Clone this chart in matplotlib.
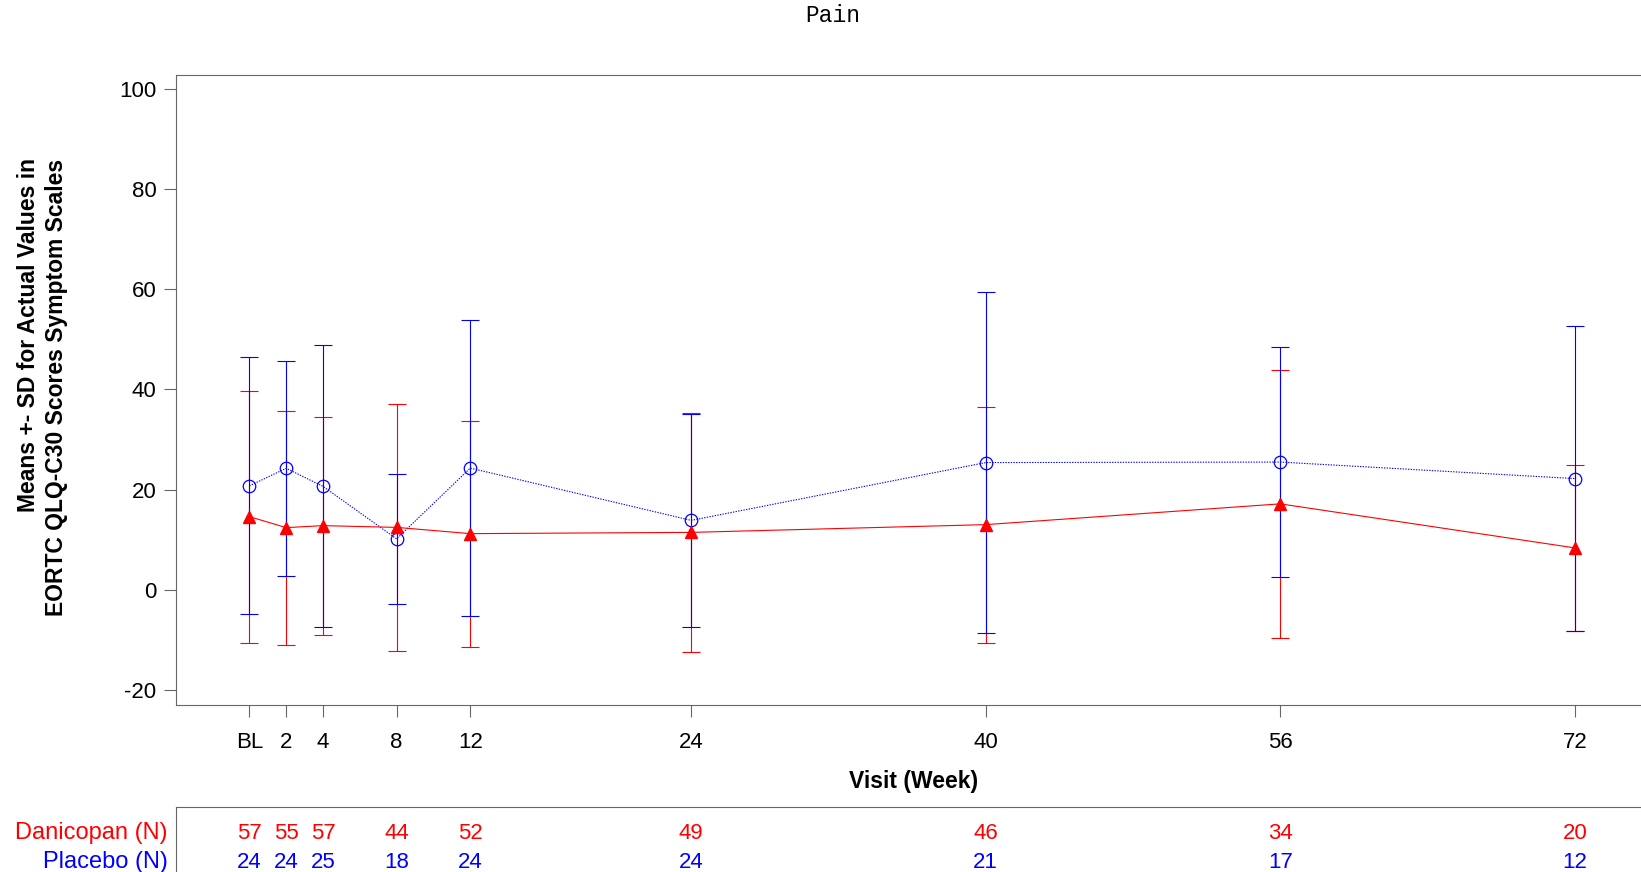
import matplotlib
matplotlib.use('Agg')
import matplotlib.pyplot as plt
from matplotlib.transforms import blended_transform_factory
from matplotlib.font_manager import FontProperties

# ---------------- data ----------------
weeks = [0, 2, 4, 8, 12, 24, 40, 56, 72]
tick_labels = ['BL', '2', '4', '8', '12', '24', '40', '56', '72']
dan_mean = [14.6, 12.4, 12.8, 12.45, 11.2, 11.45, 13.0, 17.15, 8.35]
dan_sd = [25.2, 23.4, 21.8, 24.65, 22.6, 23.85, 23.6, 26.75, 16.65]
pla_mean = [20.75, 24.25, 20.65, 10.15, 24.3, 13.85, 25.4, 25.5, 22.2]
pla_sd = [25.65, 21.45, 28.15, 12.95, 29.5, 21.25, 34.0, 22.9, 30.5]
dan_n = [57, 55, 57, 44, 52, 49, 46, 34, 20]
pla_n = [24, 24, 25, 18, 24, 24, 21, 17, 12]
y_ticks = [-20, 0, 20, 40, 60, 80, 100]
title = 'Pain'
x_label = 'Visit (Week)'
y_label_lines = ['Means +- SD for Actual Values in', 'EORTC QLQ-C30 Scores Symptom Scales']
row_labels = ['Danicopan (N)', 'Placebo (N)']

# ---------------- layout ----------------
plt.rcParams['font.family'] = ['Liberation Sans', 'DejaVu Sans']
W, H = 1641, 872
fig = plt.figure(figsize=(W / 100, H / 100), dpi=100)


def fx(px):
    return px / W


def fy(py):
    return 1 - py / H


ax_left, ax_right, ax_top, ax_bot = 175.7, 1648.5, 74.7, 705.3
ax = fig.add_axes([fx(ax_left), fy(ax_bot), (ax_right - ax_left) / W, (ax_bot - ax_top) / H])
RED, BLUE, FRAME = '#ff0000', '#0000ff', '#666666'

# error bars
ax.errorbar(weeks, dan_mean, yerr=dan_sd, fmt='none', ecolor=RED, elinewidth=0.8,
            capsize=6.8, capthick=0.8, zorder=2)
ax.errorbar(weeks, pla_mean, yerr=pla_sd, fmt='none', ecolor=BLUE, elinewidth=0.8,
            capsize=6.8, capthick=0.8, zorder=3)
# mean lines
ax.plot(weeks, pla_mean, color=BLUE, ls=(0, (1.2, 1.2)), lw=0.8, marker='o', ms=9,
        mfc='none', mec=BLUE, mew=0.9, zorder=4)
ax.plot(weeks, dan_mean, color=RED, ls='-', lw=0.8, marker='^', ms=8,
        mfc=RED, mec=RED, zorder=5)

ax.set_xlim(-4, 76)
ax.set_ylim(-23.1, 102.9)
ax.set_xticks(weeks, tick_labels)
ax.set_yticks(y_ticks, [str(v) for v in y_ticks])
ax.tick_params(axis='both', direction='out', length=8.5, width=0.8, color=FRAME,
               labelsize=16, labelcolor='black')
ax.tick_params(axis='x', pad=10.5)
ax.tick_params(axis='y', pad=5.5)
for s in ax.spines.values():
    s.set_color(FRAME)
    s.set_linewidth(0.8)

# axis labels
ax.set_xlabel(x_label, fontweight='bold', fontsize=16.5)
ax.xaxis.set_label_coords(fx(914), fy(787.7), transform=fig.transFigure)
ax.xaxis.label.set_verticalalignment('baseline')

# y label: two lines, block centred at y = 387 px
ylab_fp = FontProperties(family=['Liberation Sans', 'DejaVu Sans'], weight='bold', size=16.5)
renderer = fig.canvas.get_renderer()
_, lp_h, lp_d = renderer.get_text_width_height_descent('lp', ylab_fp, ismath=False)
_, h1, d1 = renderer.get_text_width_height_descent(y_label_lines[0], ylab_fp, ismath=False)
_, h2, d2 = renderer.get_text_width_height_descent(y_label_lines[1], ylab_fp, ismath=False)
h1, d1 = max(h1, lp_h), max(d1, lp_d)
h2, d2 = max(h2, lp_h), max(d2, lp_d)
b1, b2 = 32.3, 60.7
ls = 0.80 * (b2 - b1) / max(lp_h - lp_d, h2 - d2)
x_center = (b1 - (h1 - d1) + b2 + d2) / 2 + 2.5
ax.set_ylabel('\n'.join(y_label_lines), fontproperties=ylab_fp, linespacing=ls,
              multialignment='right')
ax.yaxis.set_label_coords(fx(x_center), fy(387), transform=fig.transFigure)
ax.yaxis.label.set_verticalalignment('center')
ax.yaxis.label.set_horizontalalignment('center')

# title
fig.suptitle(title, x=fx(832.7), y=fy(16), va='center', ha='center',
             family=['Liberation Mono', 'DejaVu Sans Mono'], fontsize=16.5)

# ---------------- N table ----------------
tax = fig.add_axes([fx(ax_left), -0.2, (ax_right - ax_left) / W, 0.2 + fy(806.7)])
tax.set_xlim(ax.get_xlim())
tax.set_ylim(0, 1)
tax.set_xticks([])
tax.set_yticks([])
for s in tax.spines.values():
    s.set_color(FRAME)
    s.set_linewidth(0.8)
trans = blended_transform_factory(tax.transData, fig.transFigure)
row_y = [fy(839), fy(868.3)]
for vals, yy, col in [(dan_n, row_y[0], RED), (pla_n, row_y[1], BLUE)]:
    for w, n in zip(weeks, vals):
        tax.text(w, yy, str(n), transform=trans, ha='center', va='baseline',
                 color=col, fontsize=16)
for lab, yy, col in zip(row_labels, row_y, [RED, BLUE]):
    fig.text(fx(167.7), yy, lab, ha='right', va='baseline', color=col, fontsize=17)

fig.savefig('out.png', dpi=100)
